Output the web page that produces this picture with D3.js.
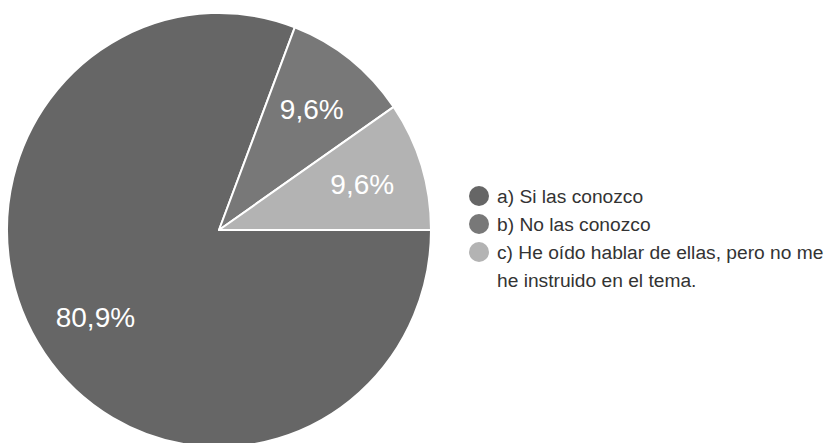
<!DOCTYPE html>
<html>
<head>
<meta charset="utf-8">
<script src="https://cdn.jsdelivr.net/npm/d3@7"></script>
<style>
  html, body { margin: 0; padding: 0; background: #ffffff; }
  svg { display: block; }
</style>
</head>
<body>
<svg id="chart" width="827" height="443"></svg>
<script>
// Survey answers and their shares (percent)
const categories = [
  "a) Si las conozco",
  "b) No las conozco",
  "c) He oído hablar de ellas, pero no me he instruido en el tema."
];
const legendLines = [
  ["a) Si las conozco"],
  ["b) No las conozco"],
  ["c) He oído hablar de ellas, pero no me", "he instruido en el tema."]
];
const values = [80.9, 9.6, 9.6];
const colors = ["#666666", "#787878", "#b3b3b3"];

const svg = d3.select("#chart");
const cx = 219, cy = 230, radius = 212, yStretch = 1.024;
const font = "'Liberation Sans', Arial, Helvetica, sans-serif";

const pie = d3.pie().sort(null)
  .startAngle(Math.PI / 2)
  .endAngle(Math.PI / 2 + 2 * Math.PI)
  .value(d => d);
const arcs = pie(values);

const arc = d3.arc().innerRadius(0).outerRadius(radius);
const labelArc = d3.arc().innerRadius(150).outerRadius(150);

const g = svg.append("g")
  .attr("transform", `translate(${cx},${cy}) scale(1,${yStretch})`);

g.selectAll("path")
  .data(arcs)
  .join("path")
  .attr("d", arc)
  .attr("fill", (d, i) => colors[i])
  .attr("stroke", "#ffffff")
  .attr("stroke-width", 2)
  .attr("stroke-linejoin", "round");

const fmt = v => d3.format(".1f")(v).replace(".", ",") + "%";

svg.append("g")
  .selectAll("text")
  .data(arcs)
  .join("text")
  .attr("x", d => cx + labelArc.centroid(d)[0])
  .attr("y", d => cy + labelArc.centroid(d)[1] * yStretch)
  .attr("dy", "0.36em")
  .attr("text-anchor", "middle")
  .attr("font-family", font)
  .attr("font-size", 28)
  .attr("fill", "#ffffff")
  .text(d => fmt(d.data));

// Legend
const legend = svg.append("g").attr("transform", "translate(479,196)");
const item = legend.selectAll("g")
  .data(categories)
  .join("g")
  .attr("transform", (d, i) => `translate(0,${i * 28})`);

item.append("circle")
  .attr("r", 10)
  .attr("fill", (d, i) => colors[i]);

item.append("text")
  .attr("x", 18)
  .attr("font-family", font)
  .attr("font-size", 19.2)
  .attr("fill", "#333333")
  .selectAll("tspan")
  .data((d, i) => legendLines[i])
  .join("tspan")
  .attr("x", 18)
  .attr("y", (d, j) => j * 28)
  .attr("dy", "0.36em")
  .text(d => d);
</script>
</body>
</html>
